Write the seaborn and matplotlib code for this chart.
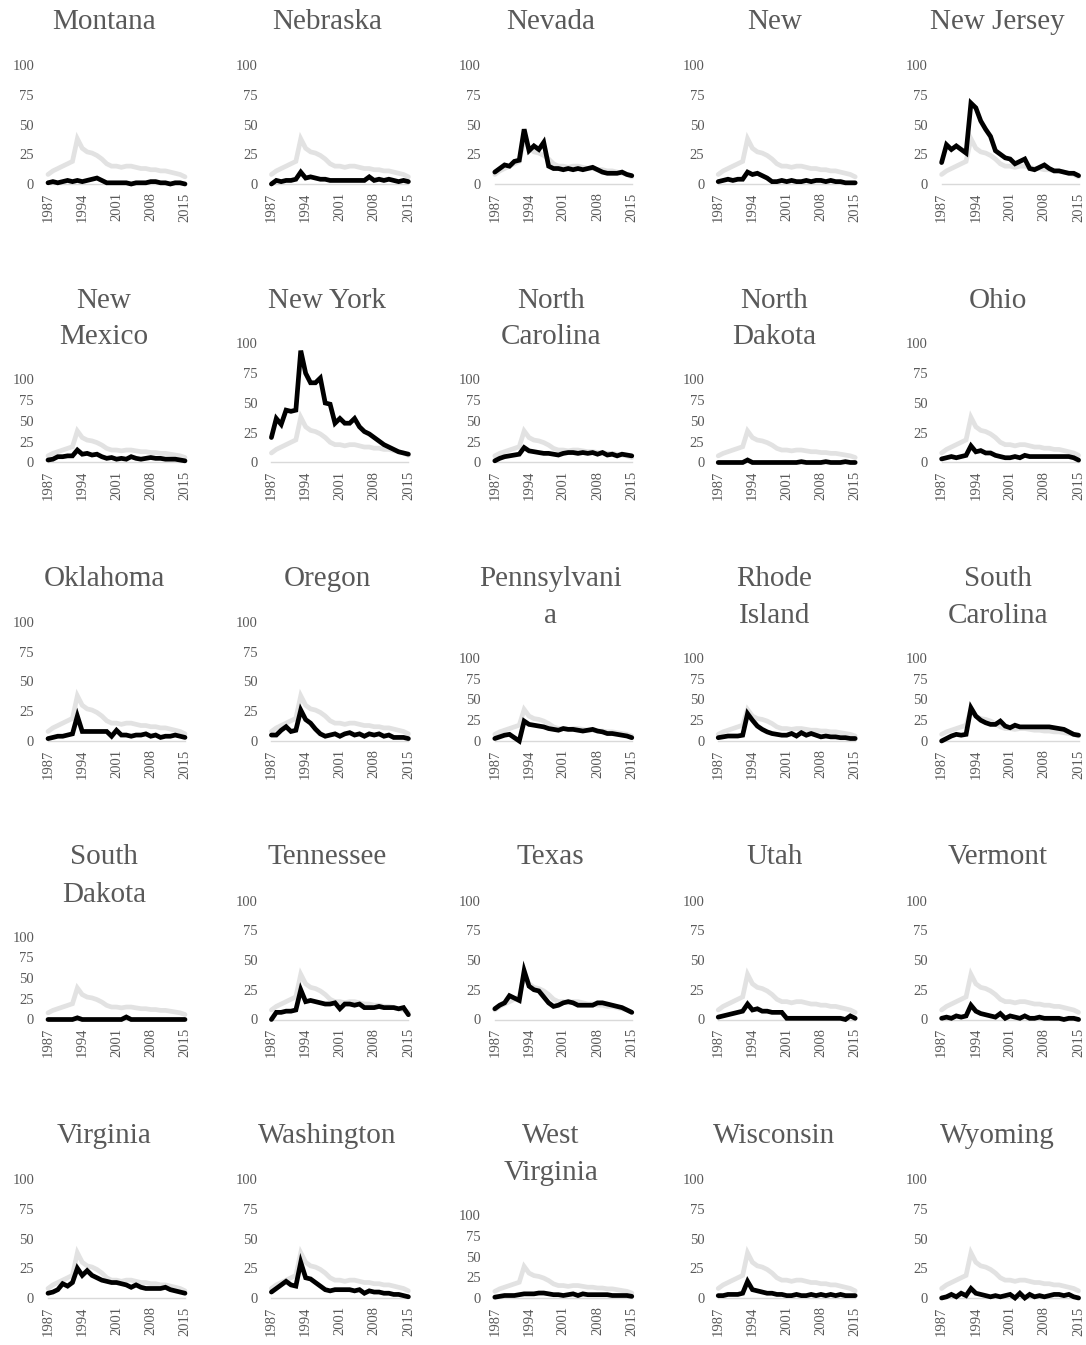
import matplotlib
matplotlib.use("Agg")
import matplotlib.pyplot as plt
import numpy as np
import pandas as pd
import seaborn as sns

# ---- data -----------------------------------------------------------------
years = list(range(1987, 2016))
tick_years = [1987, 1994, 2001, 2008, 2015]

national = [8, 11, 13, 15, 17, 19, 38, 30, 27, 26, 24, 21, 17, 15, 15, 14, 15, 15,
            14, 13, 13, 12, 12, 11, 11, 10, 9, 8, 6]

montana = [1, 2, 1, 2, 3, 2, 3, 2, 3, 4, 5, 3, 1, 1, 1, 1, 1, 0, 1, 1, 1, 2, 2, 1,
           1, 0, 1, 1, 0]
nebraska = [0, 3, 2, 3, 3, 4, 10, 5, 6, 5, 4, 4, 3, 3, 3, 3, 3, 3, 3, 3, 6, 3, 4,
            3, 4, 3, 2, 3, 2]
nevada = [10, 13, 16, 15, 19, 20, 46, 28, 32, 29, 35, 15, 13, 13, 12, 13, 12, 13,
          12, 13, 14, 12, 10, 9, 9, 9, 10, 8, 7]
new_hampshire = [2, 3, 4, 3, 4, 4, 10, 8, 9, 7, 5, 2, 2, 3, 2, 3, 2, 2, 3, 2, 3, 3,
                 2, 3, 2, 2, 1, 1, 1]
new_jersey = [18, 33, 29, 32, 29, 26, 68, 64, 53, 46, 40, 28, 25, 22, 21, 17, 19,
              21, 13, 12, 14, 16, 13, 11, 11, 10, 9, 9, 7]
new_mexico = [3, 4, 7, 7, 8, 8, 15, 10, 11, 9, 10, 7, 5, 6, 4, 5, 4, 7, 5, 4, 5, 6,
              5, 5, 4, 4, 4, 3, 2]
new_york = [21, 37, 32, 44, 43, 44, 94, 75, 67, 67, 71, 50, 49, 33, 37, 33, 33, 37,
            30, 26, 24, 21, 18, 15, 13, 11, 9, 8, 7]
north_carolina = [2, 5, 7, 8, 9, 10, 18, 14, 13, 12, 11, 11, 10, 9, 11, 12, 12, 11,
                  12, 11, 12, 10, 12, 9, 10, 8, 10, 9, 8]
north_dakota = [0, 0, 0, 0, 0, 0, 3, 0, 0, 0, 0, 0, 0, 0, 0, 0, 0, 1, 0, 0, 0, 0, 1,
                0, 0, 0, 1, 0, 0]
ohio = [3, 4, 5, 4, 5, 6, 14, 9, 10, 8, 8, 6, 5, 4, 4, 5, 4, 6, 5, 5, 5, 5, 5, 5, 5,
        5, 5, 4, 2]
oklahoma = [2, 3, 4, 4, 5, 6, 21, 8, 8, 8, 8, 8, 8, 4, 9, 5, 5, 4, 5, 5, 6, 4, 5, 3,
            4, 4, 5, 4, 3]
oregon = [5, 5, 9, 12, 8, 9, 26, 18, 15, 10, 6, 4, 5, 6, 4, 6, 7, 5, 6, 4, 6, 5, 6,
          4, 5, 3, 3, 3, 2]
pennsylvania = [3, 5, 7, 8, 4, 0, 24, 20, 19, 18, 17, 15, 14, 13, 15, 14, 14, 13,
                12, 13, 14, 12, 11, 9, 9, 8, 7, 6, 4]
rhode_island = [4, 5, 6, 6, 6, 7, 33, 25, 18, 14, 11, 9, 8, 7, 7, 9, 6, 10, 7, 9, 7,
                5, 6, 5, 5, 4, 4, 3, 3]
south_carolina = [0, 3, 6, 8, 7, 8, 40, 30, 25, 22, 20, 20, 24, 18, 16, 19, 17, 17,
                  17, 17, 17, 17, 17, 16, 15, 14, 11, 8, 7]
south_dakota = [0, 0, 0, 0, 0, 0, 2, 0, 0, 0, 0, 0, 0, 0, 0, 0, 3, 0, 0, 0, 0, 0, 0,
                0, 0, 0, 0, 0, 0]
tennessee = [0, 6, 6, 7, 7, 8, 25, 15, 16, 15, 14, 13, 13, 14, 9, 13, 13, 12, 13,
             10, 10, 10, 11, 10, 10, 10, 9, 10, 4]
texas = [9, 12, 14, 20, 18, 16, 41, 28, 25, 24, 19, 14, 11, 12, 14, 15, 14, 12, 12,
         12, 12, 14, 14, 13, 12, 11, 10, 8, 6]
utah = [2, 3, 4, 5, 6, 7, 13, 8, 9, 7, 7, 6, 6, 6, 1, 1, 1, 1, 1, 1, 1, 1, 1, 1, 1,
        1, 0, 3, 1]
vermont = [1, 2, 1, 3, 2, 3, 12, 7, 5, 4, 3, 2, 5, 1, 3, 2, 1, 3, 1, 1, 2, 1, 1, 1,
           1, 0, 1, 1, 0]
virginia = [4, 5, 7, 12, 10, 13, 25, 19, 23, 19, 17, 15, 14, 13, 13, 12, 11, 9, 11,
            9, 8, 8, 8, 8, 9, 7, 6, 5, 4]
washington = [5, 8, 11, 14, 11, 10, 30, 17, 16, 13, 10, 7, 6, 7, 7, 7, 7, 6, 7, 4,
              6, 5, 5, 4, 4, 3, 3, 2, 1]
west_virginia = [1, 2, 3, 3, 3, 4, 5, 5, 5, 6, 6, 5, 4, 4, 3, 4, 5, 3, 5, 4, 4, 4, 4,
                 4, 3, 3, 3, 3, 2]
wisconsin = [2, 2, 3, 3, 3, 4, 14, 7, 6, 5, 4, 4, 3, 3, 2, 2, 3, 2, 2, 3, 2, 3, 2, 3,
             2, 3, 2, 2, 2]
wyoming = [0, 1, 3, 1, 4, 2, 8, 4, 3, 2, 1, 2, 1, 2, 3, 0, 4, 0, 3, 1, 2, 1, 2, 3, 3,
           2, 3, 1, 0]

panel_titles = ["Montana", "Nebraska", "Nevada", "New", "New Jersey",
                "New\nMexico", "New York", "North\nCarolina", "North\nDakota", "Ohio",
                "Oklahoma", "Oregon", "Pennsylvani\na", "Rhode\nIsland", "South\nCarolina",
                "South\nDakota", "Tennessee", "Texas", "Utah", "Vermont",
                "Virginia", "Washington", "West\nVirginia", "Wisconsin", "Wyoming"]
panel_series = [montana, nebraska, nevada, new_hampshire, new_jersey,
                new_mexico, new_york, north_carolina, north_dakota, ohio,
                oklahoma, oregon, pennsylvania, rhode_island, south_carolina,
                south_dakota, tennessee, texas, utah, vermont,
                virginia, washington, west_virginia, wisconsin, wyoming]

# ---- style ----------------------------------------------------------------
sns.set_theme(style="white")
plt.rcParams["font.family"] = ["Liberation Serif", "DejaVu Serif"]
TEXT = "#595959"
NAT_COLOR = "#e2e2e2"
STATE_COLOR = "#000000"

W, H = 1086, 1345
fig = plt.figure(figsize=(W / 100, H / 100), dpi=100)
fig.patch.set_facecolor("white")

COL_STEP = 223.4
ROW_STEP = 278.5
X0 = 48          # left edge of the first panel's data area (px)
Y0 = 184         # baseline (value 0) of the first row (px from top)
PLOT_W = 137

for i, (title, vals) in enumerate(zip(panel_titles, panel_series)):
    r, c = divmod(i, 5)
    two_lines = "\n" in title
    base = Y0 + ROW_STEP * r
    top = base - (83 if two_lines else 119)
    left = X0 + COL_STEP * c

    ax = fig.add_axes([left / W, 1 - base / H, PLOT_W / W, (base - top) / H])
    df = pd.DataFrame({"year": years + years,
                       "value": national + vals,
                       "series": ["US"] * len(years) + ["State"] * len(years)})
    sns.lineplot(data=df, x="year", y="value", hue="series",
                 palette={"US": NAT_COLOR, "State": STATE_COLOR},
                 hue_order=["US", "State"], linewidth=3.4, legend=False, ax=ax,
                 clip_on=False, solid_joinstyle="miter")

    ax.set_xlim(1987, 2015)
    ax.set_ylim(0, 100)
    ax.set_yticks([0, 25, 50, 75, 100])
    ax.set_xticks(tick_years)
    ax.set_xticklabels([str(y) for y in tick_years], rotation=90)
    ax.set_xlabel("")
    ax.set_ylabel("")
    for side in ("top", "right", "left"):
        ax.spines[side].set_visible(False)
    ax.spines["bottom"].set_color("#d9d9d9")
    ax.spines["bottom"].set_linewidth(1.0)
    ax.spines["bottom"].set_zorder(0)
    ax.tick_params(axis="both", length=0, labelsize=10.5, labelcolor=TEXT)
    ax.tick_params(axis="y", pad=10)
    ax.tick_params(axis="x", pad=6)
    ax.set_facecolor("none")

    fig.text((left + 56) / W, 1 - (9 + ROW_STEP * r) / H, title,
             ha="center", va="top", fontsize=21, color=TEXT, linespacing=1.55)

fig.savefig("out.png", dpi=100, facecolor="white")
